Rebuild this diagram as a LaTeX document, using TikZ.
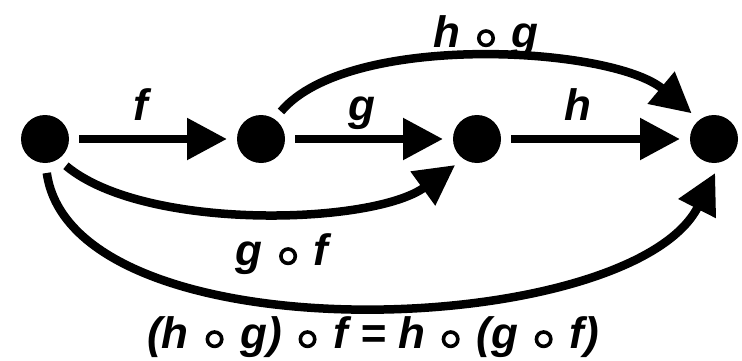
\documentclass[tikz,border=0pt]{standalone}
\usepackage{fontspec}
\setmainfont{Liberation Sans}
\usetikzlibrary{arrows.meta}
\newcommand\rng{\hspace{4.5pt}\tikz[baseline=0pt]\draw[line width=3.6pt] (0pt,8.8pt) circle (7.2pt);\hspace{4.5pt}}
\begin{document}
\begin{tikzpicture}[x=1pt,y=1pt,
  dot/.style={circle,fill=black,minimum size=48pt,inner sep=0pt,outer sep=10pt},
  arr/.style={line width=8.5pt,-{Triangle[length=40pt,width=40pt]}},
  lbl/.style={font=\fontsize{44}{50}\selectfont\bfseries\itshape,anchor=base,inner sep=0pt}]
\useasboundingbox (0,0) rectangle (742,360);
\node[dot] (A) at (45,221) {};
\node[dot] (B) at (261,221) {};
\node[dot] (C) at (477,221) {};
\node[dot] (D) at (714,221) {};
\draw[arr] (A) -- (B);
\draw[arr] (B) -- (C);
\draw[arr] (C) -- (D);
\draw[arr] (B.54) to[out=50,in=140,looseness=0.65] (D.131);
\draw[arr] (A.-52) to[out=-40,in=216,looseness=0.67] (C.230);
\draw[arr] (A.-87) to[out=-82,in=243,looseness=0.72] (D.-88);
\node[lbl] (lf) at (141,240) {f};
\node[lbl] (lg) at (362,240) {g};
\node[lbl] (lh) at (578,240) {h};
\node[lbl] (lhg) at (486,313) {h \rng{} g};
\node[lbl] (lgf) at (282,95) {g \rng{} f};
\node[lbl] (lfor) at (373,12) {(h \rng{} g) \rng{} f = h \rng{} (g \rng{} f)};
\end{tikzpicture}
\end{document}
